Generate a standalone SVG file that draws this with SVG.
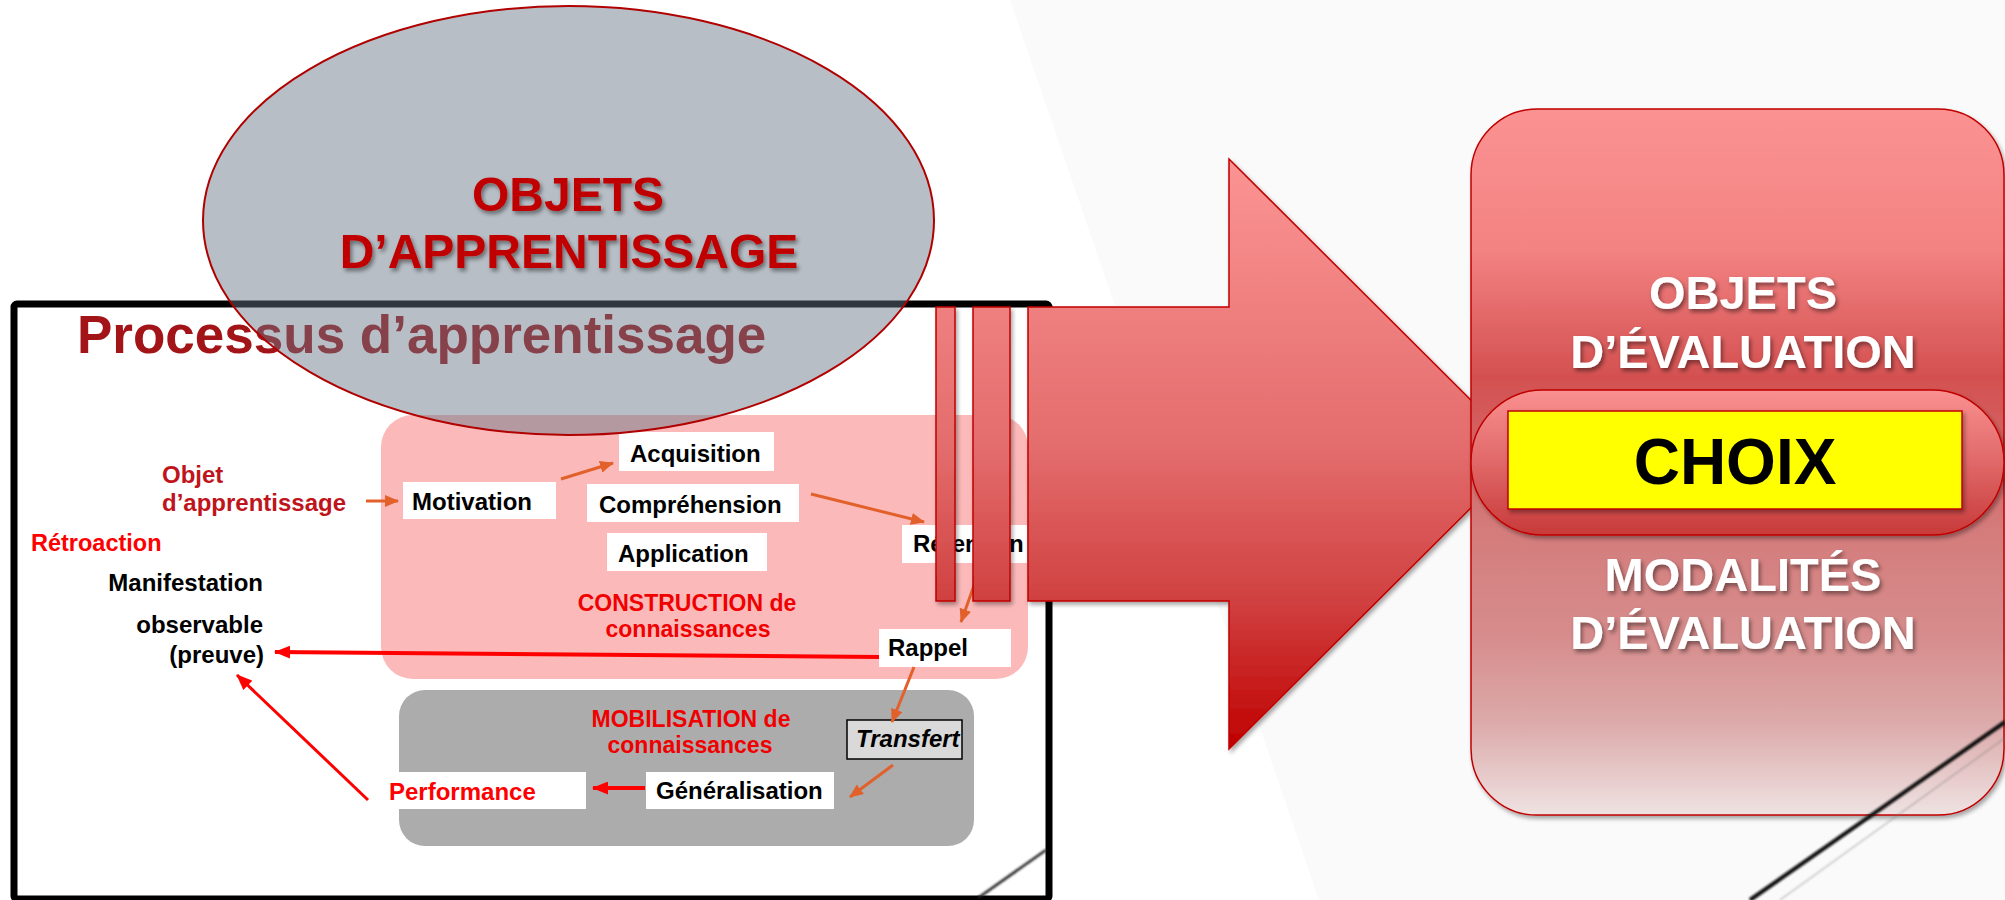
<svg xmlns="http://www.w3.org/2000/svg" width="2005" height="900" viewBox="0 0 2005 900">
<defs>
<style>
text{font-family:"Liberation Sans",Arial,sans-serif;font-weight:bold}
.box{fill:#ffffff}
.lbl{font-size:24px;fill:#000000}
.red{fill:#ff0000}
.dred{fill:#c0141c}
.zone{font-size:23px;fill:#f00000;text-anchor:middle}
.orange{stroke:#e2612b;stroke-width:3;fill:none;marker-end:url(#hO)}
.redl{stroke:#ff0000;fill:none;marker-end:url(#hR)}
.big{fill:url(#gArrow);stroke:#c00000;stroke-width:1.5}
.wt{font-size:47px;fill:#ffffff;text-anchor:middle}
</style>
<marker id="hO" markerUnits="userSpaceOnUse" viewBox="0 0 14 12" markerWidth="14" markerHeight="12" refX="13" refY="6" orient="auto">
<path d="M0,0 L14,6 L0,12 z" fill="#e2612b"/>
</marker>
<marker id="hR" markerUnits="userSpaceOnUse" viewBox="0 0 16 13" markerWidth="16" markerHeight="13" refX="15" refY="6.5" orient="auto">
<path d="M0,0 L16,6.5 L0,13 z" fill="#ff0000"/>
</marker>
<linearGradient id="gArrow" gradientUnits="userSpaceOnUse" x1="0" y1="159" x2="0" y2="749">
<stop offset="0" stop-color="#fc9494"/>
<stop offset="0.5" stop-color="#e36b6b"/>
<stop offset="0.75" stop-color="#d04040"/>
<stop offset="1" stop-color="#c00000"/>
</linearGradient>
<linearGradient id="gBox" gradientUnits="userSpaceOnUse" x1="0" y1="109" x2="0" y2="815">
<stop offset="0" stop-color="#fb9292"/>
<stop offset="0.2" stop-color="#f38282"/>
<stop offset="0.38" stop-color="#d45050"/>
<stop offset="0.6" stop-color="#d47c7c"/>
<stop offset="0.75" stop-color="#d78d8d"/>
<stop offset="0.87" stop-color="#dcaaaa"/>
<stop offset="1" stop-color="#efe2e2"/>
</linearGradient>
<linearGradient id="gPill" gradientUnits="userSpaceOnUse" x1="0" y1="390" x2="0" y2="535">
<stop offset="0" stop-color="#fa9090"/>
<stop offset="0.5" stop-color="#e06868"/>
<stop offset="1" stop-color="#c83a3a"/>
</linearGradient>
<filter id="sh" x="-10%" y="-10%" width="120%" height="130%">
<feDropShadow dx="2" dy="3" stdDeviation="2" flood-color="#000" flood-opacity="0.35"/>
</filter>
<filter id="tsh" x="-10%" y="-20%" width="120%" height="150%">
<feDropShadow dx="2" dy="3" stdDeviation="2" flood-color="#000" flood-opacity="0.45"/>
</filter>
<filter id="soft" x="-5%" y="-5%" width="110%" height="110%">
<feGaussianBlur stdDeviation="0.8"/>
</filter>
</defs>

<rect x="0" y="0" width="2005" height="900" fill="#ffffff"/>
<polygon points="1010,0 2005,0 2005,900 1319,900" fill="#fafafa"/>

<g id="frame">
<rect x="14" y="304" width="1035" height="595" rx="3" fill="#ffffff" stroke="#000000" stroke-width="7"/>
<line x1="1046" y1="850" x2="978" y2="898" stroke="#222" stroke-width="2.5" filter="url(#soft)"/>
</g>

<text id="title" x="77" y="353" font-size="53" fill="#a31419">Processus d’apprentissage</text>

<g id="construction">
<rect x="381" y="415" width="647" height="264" rx="32" fill="#fcb9b9"/>
<text class="zone" x="687" y="611">CONSTRUCTION de</text>
<text class="zone" x="688" y="637">connaissances</text>
</g>

<g id="mobilisation">
<rect x="399" y="690" width="575" height="156" rx="26" fill="#acacac"/>
<text class="zone" x="691" y="727">MOBILISATION de</text>
<text class="zone" x="690" y="753">connaissances</text>
</g>

<g id="objet">
<text class="dred" font-size="24" x="162" y="483">Objet</text>
<text class="dred" font-size="24" x="162" y="511">d’apprentissage</text>
</g>
<g id="retroaction"><text class="red" font-size="23.5" x="31" y="551">Rétroaction</text></g>
<g id="manifestation">
<text class="lbl" x="263" y="591" text-anchor="end">Manifestation</text>
<text class="lbl" x="263" y="633" text-anchor="end">observable</text>
<text class="lbl" x="264" y="663" text-anchor="end">(preuve)</text>
</g>

<g id="motivation"><rect class="box" x="403" y="482" width="153" height="37"/><text class="lbl" x="412" y="510">Motivation</text></g>
<g id="acquisition"><rect class="box" x="619" y="432" width="155" height="39"/><text class="lbl" x="630" y="462">Acquisition</text></g>
<g id="comprehension"><rect class="box" x="587" y="484" width="212" height="38"/><text class="lbl" x="599" y="513">Compréhension</text></g>
<g id="application"><rect class="box" x="607" y="533" width="160" height="38"/><text class="lbl" x="618" y="562">Application</text></g>
<g id="retention"><rect class="box" x="902" y="525" width="125" height="38"/><text class="lbl" x="913" y="552">Rétention</text></g>
<g id="rappel"><rect class="box" x="879" y="629" width="132" height="38"/><text class="lbl" x="888" y="656">Rappel</text></g>
<g id="transfert"><rect x="847" y="720" width="115" height="39" fill="#d9d9d9" stroke="#000" stroke-width="1.5"/><text class="lbl" x="856" y="747" font-size="22" font-style="italic">Transfert</text></g>
<g id="generalisation"><rect class="box" x="646" y="772" width="188" height="37"/><text class="lbl" x="656" y="799">Généralisation</text></g>
<g id="performance"><rect class="box" x="380" y="772" width="206" height="37"/><text class="red" font-size="24" x="389" y="800">Performance</text></g>

<g id="connectors">
<line class="orange" x1="366" y1="501" x2="398" y2="501"/>
<line class="orange" x1="561" y1="479" x2="613" y2="463"/>
<line class="orange" x1="811" y1="494" x2="924" y2="522"/>
<line class="orange" x1="976" y1="580" x2="961" y2="622"/>
<line class="orange" x1="914" y1="667" x2="892" y2="722"/>
<line class="orange" x1="893" y1="765" x2="850" y2="797"/>
<line class="redl" stroke-width="4" x1="879" y1="657" x2="275" y2="652"/>
<line class="redl" stroke-width="3" x1="368" y1="800" x2="237" y2="675"/>
<line class="redl" stroke-width="4" x1="645" y1="788" x2="593" y2="788"/>
</g>

<g id="objets-apprentissage">
<ellipse cx="568.5" cy="220.5" rx="365.5" ry="214.5" fill="#677483" fill-opacity="0.47" stroke="#b00000" stroke-width="2"/>
<text x="568" y="211" font-size="48" fill="#c00000" text-anchor="middle" filter="url(#tsh)">OBJETS</text>
<text x="569" y="268" font-size="48" fill="#c00000" text-anchor="middle" filter="url(#tsh)">D’APPRENTISSAGE</text>
</g>

<g id="big-arrow" filter="url(#sh)">
<rect class="big" x="936" y="307" width="19" height="294"/>
<rect class="big" x="973" y="307" width="37" height="294"/>
<polygon class="big" points="1028,307 1229,307 1229,159 1525,454 1229,749 1229,601 1028,601"/>
</g>

<g id="evaluation">
<rect x="1471" y="109" width="533" height="706" rx="66" fill="url(#gBox)" stroke="#c00000" stroke-width="1.5" filter="url(#sh)"/>
<text class="wt" x="1743" y="309" filter="url(#tsh)">OBJETS</text>
<text class="wt" x="1743" y="368" filter="url(#tsh)">D’ÉVALUATION</text>
<text class="wt" x="1743" y="591" filter="url(#tsh)">MODALITÉS</text>
<text class="wt" x="1743" y="649" filter="url(#tsh)">D’ÉVALUATION</text>
</g>

<g id="choix">
<rect x="1471" y="390" width="533" height="145" rx="72" fill="url(#gPill)" stroke="#c00000" stroke-width="1.5" filter="url(#sh)"/>
<rect x="1508" y="411" width="454" height="98" fill="#ffff00" stroke="#c00000" stroke-width="1.5" filter="url(#sh)"/>
<text x="1735" y="484" font-size="64" fill="#000000" text-anchor="middle">CHOIX</text>
</g>

<g id="pen-stroke" filter="url(#soft)">
<line x1="2005" y1="722" x2="1750" y2="900" stroke="#111" stroke-width="4"/>
<line x1="2005" y1="738" x2="1780" y2="900" stroke="#777" stroke-width="1.2" opacity="0.5"/>
</g>
</svg>
